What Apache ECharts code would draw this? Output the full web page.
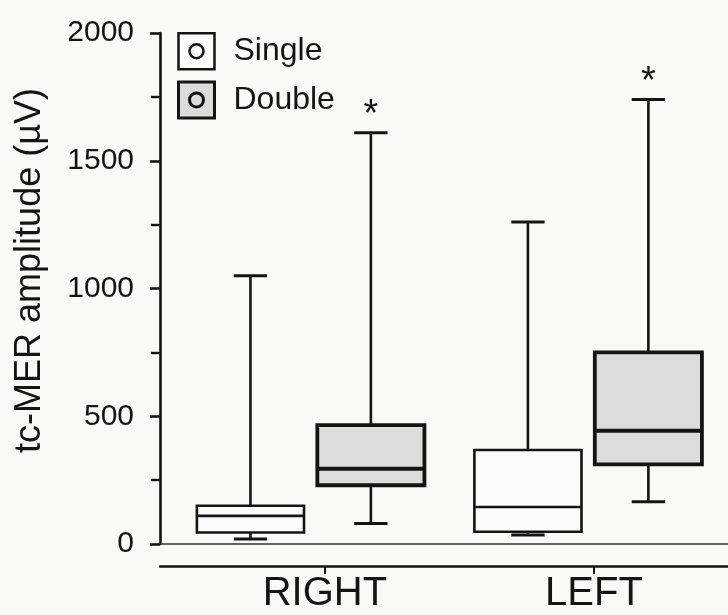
<!DOCTYPE html>
<html><head><meta charset="utf-8">
<script src="https://cdn.jsdelivr.net/npm/echarts@6/dist/echarts.min.js"></script>
<style>html,body{margin:0;padding:0;background:#f9f9f8;}#c{width:728px;height:615px;}</style>
</head><body><div id="c"></div>
<script>
// ---- data ----
const categories = ['RIGHT', 'LEFT'];
// [min, Q1, median, Q3, max]
const singleStats = [[20, 45, 110, 150, 1050], [35, 48, 145, 368, 1260]];
const doubleStats = [[80, 230, 295, 465, 1610], [165, 312, 443, 750, 1740]];
const doubleMarks = ['*', '*'];
const yTicks = [0, 500, 1000, 1500, 2000];
const seriesNames = ['Single', 'Double'];

const FONT = 'Liberation Sans, Arial, Helvetica, sans-serif';
const INK = '#141414';

function boxRenderer(offset, fill, lw, medW, marks) {
  return function (params, api) {
    const x = api.value(0);
    const lo = api.coord([x, api.value(1)]);
    const q1 = api.coord([x, api.value(2)]);
    const md = api.coord([x, api.value(3)]);
    const q3 = api.coord([x, api.value(4)]);
    const hi = api.coord([x, api.value(5)]);
    const unit = api.size([1, 0])[0];
    const cx = lo[0] + offset * unit;
    const bw = 0.386 * unit, cw = 0.12 * unit;
    const ls = { stroke: INK, lineWidth: 2.6 };
    const children = [
      { type: 'line', shape: { x1: cx, y1: q3[1], x2: cx, y2: hi[1] }, style: ls },
      { type: 'line', shape: { x1: cx - cw / 2, y1: hi[1], x2: cx + cw / 2, y2: hi[1] }, style: { stroke: INK, lineWidth: 3 } },
      { type: 'line', shape: { x1: cx, y1: q1[1], x2: cx, y2: lo[1] }, style: ls },
      { type: 'line', shape: { x1: cx - cw / 2, y1: lo[1], x2: cx + cw / 2, y2: lo[1] }, style: { stroke: INK, lineWidth: 3 } },
      { type: 'rect', shape: { x: cx - bw / 2, y: q3[1], width: bw, height: q1[1] - q3[1] }, style: { fill: fill, stroke: INK, lineWidth: lw } },
      { type: 'line', shape: { x1: cx - bw / 2, y1: md[1], x2: cx + bw / 2, y2: md[1] }, style: { stroke: INK, lineWidth: medW } }
    ];
    if (marks && marks[params.dataIndex]) {
      children.push({ type: 'text', x: cx, y: hi[1] + 2, style: { text: marks[params.dataIndex], fontSize: 38, fontFamily: FONT, fill: INK, align: 'center', verticalAlign: 'bottom' } });
    }
    return { type: 'group', children: children };
  };
}

const chart = echarts.init(document.getElementById('c'), null, { renderer: 'canvas' });
chart.setOption({
  animation: false,
  backgroundColor: '#f9f9f8',
  grid: { left: 160, top: 33, width: 568, height: 511, outerBoundsMode: 'none', containLabel: false },
  legend: {
    orient: 'vertical', left: 177, top: 32, itemWidth: 36, itemHeight: 36, itemGap: 10, padding: 0,
    textStyle: { fontSize: 32, fontFamily: FONT, color: INK, padding: [0, 0, 0, 14] },
    data: [
      { name: seriesNames[0], icon: 'path://M0,0H36V36H0Z M11,18A7,7 0 1,1 25,18A7,7 0 1,1 11,18Z', itemStyle: { color: '#fbfbfb', borderColor: INK, borderWidth: 2.5 } },
      { name: seriesNames[1], icon: 'path://M0,0H36V36H0Z M11,18A7,7 0 1,1 25,18A7,7 0 1,1 11,18Z', itemStyle: { color: '#dcdcdc', borderColor: INK, borderWidth: 3 } }
    ]
  },
  xAxis: [
    { type: 'value', gridIndex: 0, min: -0.544, max: 1.503, position: 'bottom',
      axisLine: { show: true, onZero: false, lineStyle: { color: '#333', width: 1.5 } },
      axisTick: { show: false }, axisLabel: { show: false }, splitLine: { show: false } },
    { type: 'value', gridIndex: 0, min: -0.613, max: 1.498, position: 'bottom', offset: 22,
      axisLine: { show: true, onZero: false, lineStyle: { color: INK, width: 2.5 } },
      axisTick: { show: true, length: 8, customValues: categories.map((c, i) => i), lineStyle: { color: INK, width: 2 } },
      axisLabel: { show: true, customValues: categories.map((c, i) => i), formatter: v => categories[Math.round(v)], fontSize: 40, fontFamily: FONT, color: INK, margin: 8 },
      splitLine: { show: false } }
  ],
  yAxis: {
    type: 'value', min: yTicks[0], max: yTicks[yTicks.length - 1], interval: yTicks[1] - yTicks[0],
    name: 'tc-MER amplitude (µV)', nameLocation: 'middle', nameGap: 112,
    nameTextStyle: { fontSize: 36, fontFamily: FONT, color: INK, padding: [0, 0, 0, 36] },
    axisLine: { show: true, onZero: false, lineStyle: { color: INK, width: 2.6 } },
    axisTick: { show: true, length: 10, lineStyle: { color: INK, width: 2.6 } },
    minorTick: { show: true, splitNumber: 2, length: 9, lineStyle: { color: INK, width: 2.4 } },
    axisLabel: { fontSize: 30, fontFamily: FONT, color: INK, margin: 26, formatter: v => String(v) },
    splitLine: { show: false }
  },
  series: [
    { name: seriesNames[0], type: 'custom', xAxisIndex: 0, yAxisIndex: 0,
      itemStyle: { color: '#fbfbfb', borderColor: INK },
      encode: { x: 0, y: [1, 2, 3, 4, 5] },
      renderItem: boxRenderer(-0.218, '#fbfbfb', 2.6, 2.6, null),
      data: singleStats.map((s, i) => [i].concat(s)) },
    { name: seriesNames[1], type: 'custom', xAxisIndex: 0, yAxisIndex: 0,
      itemStyle: { color: '#dcdcdc', borderColor: INK },
      encode: { x: 0, y: [1, 2, 3, 4, 5] },
      renderItem: boxRenderer(0.216, '#dcdcdc', 3.8, 4, doubleMarks),
      data: doubleStats.map((s, i) => [i].concat(s)) }
  ]
});
</script></body></html>
